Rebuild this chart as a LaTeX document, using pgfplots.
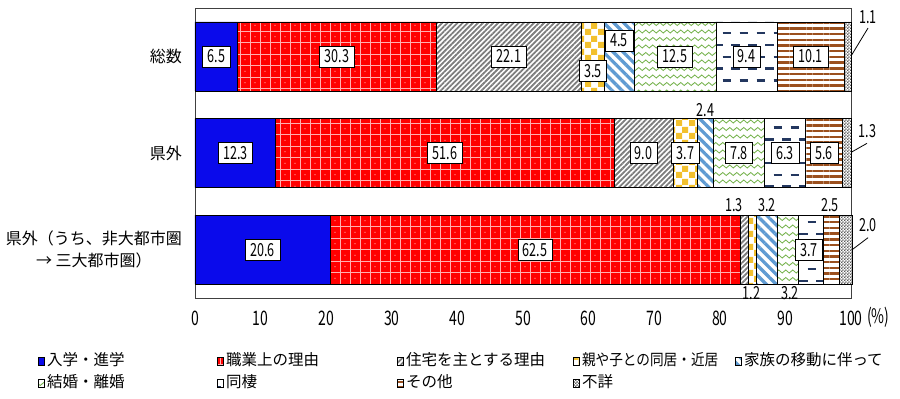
\documentclass[border=0pt]{standalone}
\usepackage{fontspec}
\setmainfont{Noto Sans CJK JP}
\newfontfamily\numfont[FakeStretch=0.7]{Noto Sans CJK JP}
\usepackage{graphicx}
\usepackage{pgfplots}
\pgfplotsset{compat=1.18}
\usepackage{pgfplotstable}
\usetikzlibrary{patterns,patterns.meta}

\definecolor{cblue}{RGB}{10,10,235}
\definecolor{cred}{RGB}{255,0,0}
\definecolor{credline}{RGB}{255,175,175}
\definecolor{cgray}{RGB}{125,125,125}
\definecolor{cgold}{RGB}{242,192,45}
\definecolor{csky}{RGB}{95,155,210}
\definecolor{cgreen}{RGB}{120,180,80}
\definecolor{cnavy}{RGB}{35,55,95}
\definecolor{cbrown}{RGB}{155,80,30}
\definecolor{cdark}{RGB}{90,90,90}

\pgfdeclarepatternformonly{redgrid}{\pgfpoint{-0.5pt}{-0.5pt}}{\pgfpoint{10.5pt}{12pt}}{\pgfpoint{10pt}{11.5pt}}{%
  \pgfsetlinewidth{0.45pt}%
  \pgfpathmoveto{\pgfpoint{0pt}{0pt}}\pgfpathlineto{\pgfpoint{10pt}{0pt}}%
  \pgfpathmoveto{\pgfpoint{0pt}{0pt}}\pgfpathlineto{\pgfpoint{0pt}{11.5pt}}%
  \pgfusepath{stroke}%
  \pgfpathcircle{\pgfpoint{5pt}{5.75pt}}{0.55pt}%
  \pgfusepath{fill}%
}
\pgfdeclarepatternformonly{bigcheck}{\pgfpointorigin}{\pgfpoint{13pt}{13pt}}{\pgfpoint{13pt}{13pt}}{%
  \pgfpathrectangle{\pgfpointorigin}{\pgfpoint{6.5pt}{6.5pt}}%
  \pgfpathrectangle{\pgfpoint{6.5pt}{6.5pt}}{\pgfpoint{6.5pt}{6.5pt}}%
  \pgfusepath{fill}%
}
\pgfdeclarepatternformonly{smallcheck}{\pgfpointorigin}{\pgfpoint{3.2pt}{3.2pt}}{\pgfpoint{3.2pt}{3.2pt}}{%
  \pgfpathrectangle{\pgfpointorigin}{\pgfpoint{1.6pt}{1.6pt}}%
  \pgfpathrectangle{\pgfpoint{1.6pt}{1.6pt}}{\pgfpoint{1.6pt}{1.6pt}}%
  \pgfusepath{fill}%
}
\pgfdeclarepatternformonly{waves}{\pgfpoint{-0.5pt}{-2.5pt}}{\pgfpoint{7.5pt}{5pt}}{\pgfpoint{7pt}{7.5pt}}{%
  \pgfsetlinewidth{0.85pt}%
  \pgfpathmoveto{\pgfpoint{0pt}{0pt}}%
  \pgfpathcurveto{\pgfpoint{1.2pt}{2pt}}{\pgfpoint{2.3pt}{2pt}}{\pgfpoint{3.5pt}{0pt}}%
  \pgfpathcurveto{\pgfpoint{4.7pt}{-2pt}}{\pgfpoint{5.8pt}{-2pt}}{\pgfpoint{7pt}{0pt}}%
  \pgfusepath{stroke}%
}
\pgfdeclarepatternformonly{dashes}{\pgfpoint{0pt}{-1.5pt}}{\pgfpoint{17pt}{22.1pt}}{\pgfpoint{17pt}{23.6pt}}{%
  \pgfsetlinewidth{2.4pt}%
  \pgfpathmoveto{\pgfpoint{0pt}{0pt}}\pgfpathlineto{\pgfpoint{8.5pt}{0pt}}%
  \pgfpathmoveto{\pgfpoint{8.5pt}{11.8pt}}\pgfpathlineto{\pgfpoint{17pt}{11.8pt}}%
  \pgfusepath{stroke}%
}

\newcommand\nf{\numfont\fontsize{18}{18}\selectfont}
\newcommand\tf{\numfont\fontsize{20}{20}\selectfont}

\tikzset{
  s1/.style={draw=black, line width=0.5pt, fill=cblue},
  s2/.style={draw=black, line width=0.5pt, fill=cred, postaction={pattern=redgrid, pattern color=credline}},
  s3/.style={draw=black, line width=0.5pt, fill=white, postaction={pattern={Lines[angle=45,distance=3.6pt,line width=1.8pt]}, pattern color=cgray}},
  s4/.style={draw=black, line width=0.5pt, fill=white, postaction={pattern=bigcheck, pattern color=cgold}},
  s5/.style={draw=black, line width=0.5pt, fill=white, postaction={pattern={Lines[angle=-45,distance=7pt,line width=3.3pt]}, pattern color=csky}},
  s6/.style={draw=black, line width=0.5pt, fill=white, postaction={pattern=waves, pattern color=cgreen}},
  s7/.style={draw=black, line width=0.5pt, fill=white, postaction={pattern=dashes, pattern color=cnavy}},
  s8/.style={draw=black, line width=0.5pt, fill=white, postaction={pattern={Lines[angle=0,distance=5.7pt,line width=2.4pt]}, pattern color=cbrown}},
  s9/.style={draw=black, line width=0.5pt, fill=white, postaction={pattern=smallcheck, pattern color=cdark}},
  vl/.style={draw=black, line width=0.6pt, fill=white, font=\nf, inner xsep=5pt, inner ysep=4pt, text height=13pt, text depth=0pt},
  tl/.style={font=\nf, inner sep=0pt, text height=13pt, text depth=0pt},
  ll/.style={black, line width=0.8pt}
}

\pgfplotstableread{
y nyugaku shokugyo jutaku oya kazoku kekkon dosei sonota fusho
0 20.6 62.5 1.3 1.2 3.2 3.2 3.7 2.5 2.0
1 12.3 51.6 9.0 3.7 2.4 7.8 6.3 5.6 1.3
2 6.5 30.3 22.1 3.5 4.5 12.5 9.4 10.1 1.1
}\datatable

\begin{document}
\begin{tikzpicture}
\path[use as bounding box] (-195pt,-101pt) rectangle (705pt,298pt);
\begin{axis}[
  at={(0,0)}, anchor=south west,
  scale only axis, width=656pt, height=290pt,
  xbar stacked, bar width=69pt,
  xmin=0, xmax=100, ymin=-0.5, ymax=2.5,
  xtick={0,10,...,100},
  ytick={0,1,2},
  yticklabels={{県外（うち、非大都市圏\\→ 三大都市圏）},{県外},{総数}},
  major tick length=0pt,
  axis line style={black!75, line width=0.9pt},
  clip=false,
  /pgf/number format/assume math mode=true,
  xticklabel style={font=\tf, inner sep=0pt, yshift=-13pt},
  yticklabel style={font=\fontsize{16}{22}\selectfont, align=center, inner sep=0pt, xshift=-13pt},
  legend columns=5,
  legend cell align=left,
  legend image code/.code={\draw[#1] (0pt,-4pt) rectangle (5.5pt,4pt);},
  legend style={draw=none, fill=none, inner sep=0pt, outer sep=0pt,
    at={(rel axis cs:-0.2393,-0.18)}, anchor=north west,
    font=\fontsize{15.5}{18}\selectfont,
    nodes={inner xsep=3pt, inner ysep=3.5pt, text height=12pt, text depth=3pt},
    row sep=0pt, column sep=0pt},
]
\addplot[s1] table[x=nyugaku,y=y]\datatable;
\addplot[s2] table[x=shokugyo,y=y]\datatable;
\addplot[s3] table[x=jutaku,y=y]\datatable;
\addplot[s4] table[x=oya,y=y]\datatable;
\addplot[s5] table[x=kazoku,y=y]\datatable;
\addplot[s6] table[x=kekkon,y=y]\datatable;
\addplot[s7] table[x=dosei,y=y]\datatable;
\addplot[s8] table[x=sonota,y=y]\datatable;
\addplot[s9] table[x=fusho,y=y]\datatable;
\addlegendentry{\makebox[167pt][l]{入学・進学}}
\addlegendentry{\makebox[168pt][l]{職業上の理由}}
\addlegendentry{\makebox[164pt][l]{住宅を主とする理由}}
\addlegendentry{\makebox[150pt][l]{\scalebox{0.88}[1]{親や子との同居・近居}}}
\addlegendentry{家族の移動に伴って}
\addlegendentry{\makebox[167pt][l]{結婚・離婚}}
\addlegendentry{\makebox[168pt][l]{同棲}}
\addlegendentry{\makebox[164pt][l]{その他}}
\addlegendentry{\makebox[150pt][l]{不詳}}
% label anchors (axis coordinates)
\coordinate (a1) at (axis cs:3.25,2);
\coordinate (a2) at (axis cs:21.65,2);
\coordinate (a3) at (axis cs:47.85,2);
\coordinate (a4) at (axis cs:60.65,1.853);
\coordinate (a5) at (axis cs:64.65,2.164);
\coordinate (a6) at (axis cs:73.15,2);
\coordinate (a7) at (axis cs:84.1,2);
\coordinate (a8) at (axis cs:93.85,2);
\coordinate (a9a) at (axis cs:100.1,2.014);
\coordinate (a9b) at (axis cs:102.6,2.293);
\coordinate (a9) at (axis cs:102.6,2.407);
\coordinate (b1) at (axis cs:6.15,1);
\coordinate (b2) at (axis cs:38.1,1);
\coordinate (b3) at (axis cs:68.4,1);
\coordinate (b4) at (axis cs:74.75,1);
\coordinate (b5) at (axis cs:77.8,1.445);
\coordinate (b6) at (axis cs:82.9,1);
\coordinate (b7) at (axis cs:89.95,1);
\coordinate (b8) at (axis cs:95.9,1);
\coordinate (b9a) at (axis cs:100.1,1.01);
\coordinate (b9b) at (axis cs:102.44,1.10);
\coordinate (b9) at (axis cs:102.5,1.23);
\coordinate (c1) at (axis cs:10.3,0);
\coordinate (c2) at (axis cs:51.85,0);
\coordinate (c3) at (axis cs:82.16,0.462);
\coordinate (c4) at (axis cs:84.85,-0.448);
\coordinate (c5) at (axis cs:87.2,0.462);
\coordinate (c6) at (axis cs:90.7,-0.448);
\coordinate (c7) at (axis cs:93.6,0);
\coordinate (c8) at (axis cs:96.8,0.462);
\coordinate (c9a) at (axis cs:100.1,-0.004);
\coordinate (c9b) at (axis cs:102.6,0.124);
\coordinate (c9) at (axis cs:102.6,0.255);
\coordinate (pct) at (axis cs:100,-0.5);
\end{axis}
% value labels, drawn above the bars
\node[vl] at (a1) {6.5};
\node[vl] at (a2) {30.3};
\node[vl] at (a3) {22.1};
\node[vl] at (a4) {3.5};
\node[vl] at (a5) {4.5};
\node[vl] at (a6) {12.5};
\node[vl] at (a7) {9.4};
\node[vl] at (a8) {10.1};
\draw[ll] (a9a) -- (a9b);
\node[tl] at (a9) {1.1};
\node[vl] at (b1) {12.3};
\node[vl] at (b2) {51.6};
\node[vl] at (b3) {9.0};
\node[vl] at (b4) {3.7};
\node[tl] at (b5) {2.4};
\node[vl] at (b6) {7.8};
\node[vl] at (b7) {6.3};
\node[vl] at (b8) {5.6};
\draw[ll] (b9a) -- (b9b);
\node[tl] at (b9) {1.3};
\node[vl] at (c1) {20.6};
\node[vl] at (c2) {62.5};
\node[tl] at (c3) {1.3};
\node[tl] at (c4) {1.2};
\node[tl] at (c5) {3.2};
\node[tl] at (c6) {3.2};
\node[vl] at (c7) {3.7};
\node[tl] at (c8) {2.5};
\draw[ll] (c9a) -- (c9b);
\node[tl] at (c9) {2.0};
\node[anchor=west, font=\tf, inner sep=0pt] at (pct) [xshift=16pt, yshift=-19pt] {(\%)};
\end{tikzpicture}
\end{document}
